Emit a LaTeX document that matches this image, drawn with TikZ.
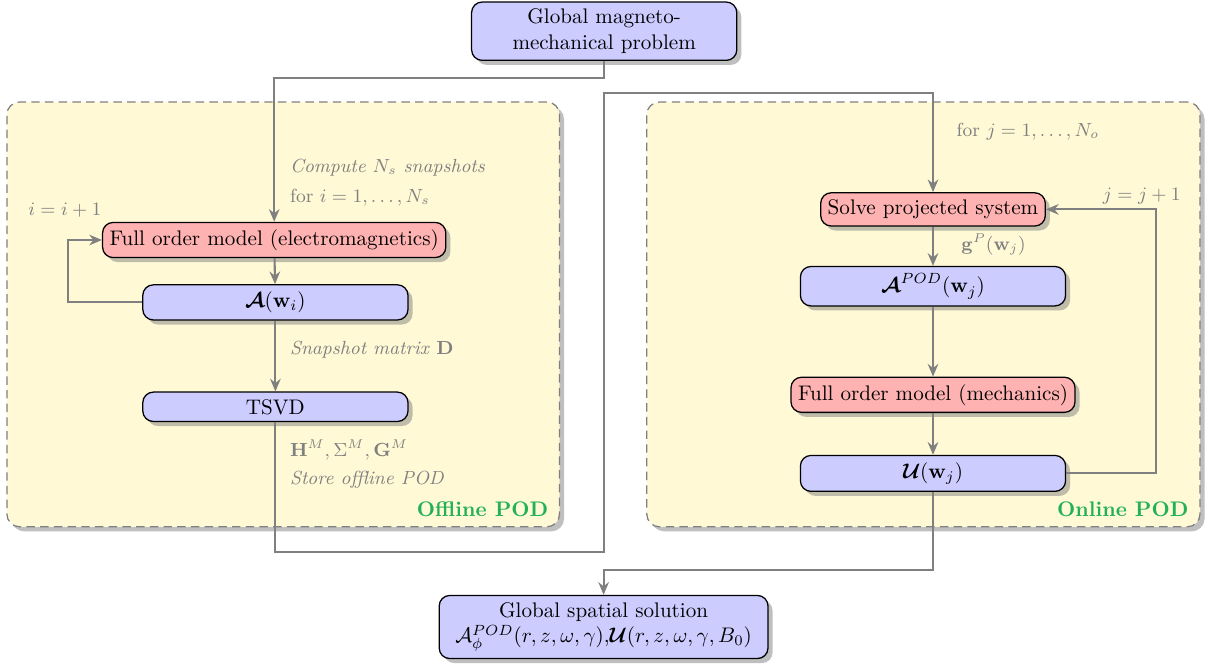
\documentclass[tikz,border=0pt]{standalone}
\usepackage{amsmath}
\usepackage{amssymb}
\usepackage{bm}
\usetikzlibrary{arrows.meta,shadows,positioning}
\definecolor{boxyellow}{RGB}{255,249,214}
\definecolor{podgreen}{RGB}{34,177,86}
\newcommand{\wvec}[1]{\mathbf{w}_{#1}}
\newcommand{\boxWidth}[0]{4.42cm}

\begin{document}
\begin{tikzpicture}
  \tikzset{blockb/.style={draw=black,semithick,fill=blue!20,rounded corners=5pt,drop shadow,align=center},
           blockr/.style={draw=black,semithick,fill=red!30,rounded corners=5pt,drop shadow,align=center},
           stage/.style={draw=gray,semithick,dash pattern=on 4pt off 2.5pt,fill=boxyellow,rounded corners=6pt,drop shadow},
           flow/.style={draw=gray,line width=1pt,-{Stealth[length=6pt,width=5pt]}},
           note/.style={text=gray,font=\small,anchor=west},
           stagename/.style={text=podgreen,font=\bfseries,anchor=east}}
  \useasboundingbox (0,0) rectangle (20.15,-11.08);
  % the two stages
  \node[stage,minimum width=9.21cm,minimum height=7.08cm] (off) at (4.72,-5.24) {};
  \node[stage,minimum width=9.22cm,minimum height=7.08cm] (on) at (15.39,-5.24) {};
  \node[stagename] (offname) at (9.26,-8.48) {Offline POD};
  \node[stagename] (onname) at (19.93,-8.48) {Online POD};
  % main problem
  \node[blockb,minimum width=\boxWidth] (glob) at (10.07,-0.52) {Global magneto-\\mechanical problem};
  % offline
  \node[blockr] (fome) at (4.57,-4.0) {Full order model (electromagnetics)};
  \node[blockb,minimum width=\boxWidth] (aw) at (4.59,-5.04) {$\bm{\mathcal{A}}(\wvec{i})$};
  \node[blockb,minimum width=\boxWidth] (tsvd) at (4.59,-6.78) {TSVD};
  % online
  \node[blockr] (solve) at (15.55,-3.49) {Solve projected system};
  \node[blockb,minimum width=\boxWidth] (apod) at (15.55,-4.77) {$\bm{\mathcal{A}}^{POD}(\wvec{j})$};
  \node[blockr] (fomm) at (15.55,-6.58) {Full order model (mechanics)};
  \node[blockb,minimum width=\boxWidth] (uw) at (15.55,-7.89) {$\bm{\mathcal{U}}(\wvec{j})$};
  % result
  \node[blockb,minimum width=5.48cm] (sol) at (10.06,-10.45) {Global spatial solution\\$\mathcal{A}_{\phi}^{POD}(r,z,\omega,\gamma)$,$\bm{\mathcal{U}}(r,z,\omega,\gamma,B_0)$};
  % labels
  \node[note] (lcomp) at (4.71,-2.8) {\textit{Compute $N_s$ snapshots}};
  \node[note] (lfori) at (4.71,-3.29) {for $i=1,\ldots,N_s$};
  \node[note,anchor=center] (linc) at (1.08,-3.5) {$i=i+1$};
  \node[note] (lsnap) at (4.71,-5.82) {\textit{Snapshot matrix} $\mathbf{D}$};
  \node[note] (lhsg) at (4.71,-7.5) {$\mathbf{H}^M,\Sigma^M,\mathbf{G}^M$};
  \node[note] (lstore) at (4.71,-8.0) {\textit{Store offline POD}};
  \node[note] (lforj) at (15.82,-2.2) {for $j=1,\ldots,N_o$};
  \node[note,anchor=center] (ljinc) at (19.03,-3.27) {$j=j+1$};
  \node[note] (lgp) at (15.9,-4.08) {$\mathbf{g}^P(\wvec{j})$};
  % connectors
  \coordinate (c1) at (10.07,-9.2);
  \coordinate (c2) at (10.07,-1.55);
  \coordinate (c3) at (15.55,-9.5);
  \draw[flow] (glob.south) -- ++(0,-0.28) -| (fome.north);
  \draw[flow] (fome) -- (aw);
  \draw[flow] (aw) -- (tsvd);
  \draw[flow] (aw.west) -- ++(-1.23,0) |- (fome.west);
  \draw[flow] (tsvd.south) |- (c1) -- (c2) -| (solve.north);
  \draw[flow] (solve) -- (apod);
  \draw[flow] (apod) -- (fomm);
  \draw[flow] (fomm) -- (uw);
  \draw[flow] (uw.east) -- ++(1.5,0) |- (solve.east);
  \draw[flow] (uw.south) -- (c3) -| (sol.north);
\end{tikzpicture}
\end{document}
